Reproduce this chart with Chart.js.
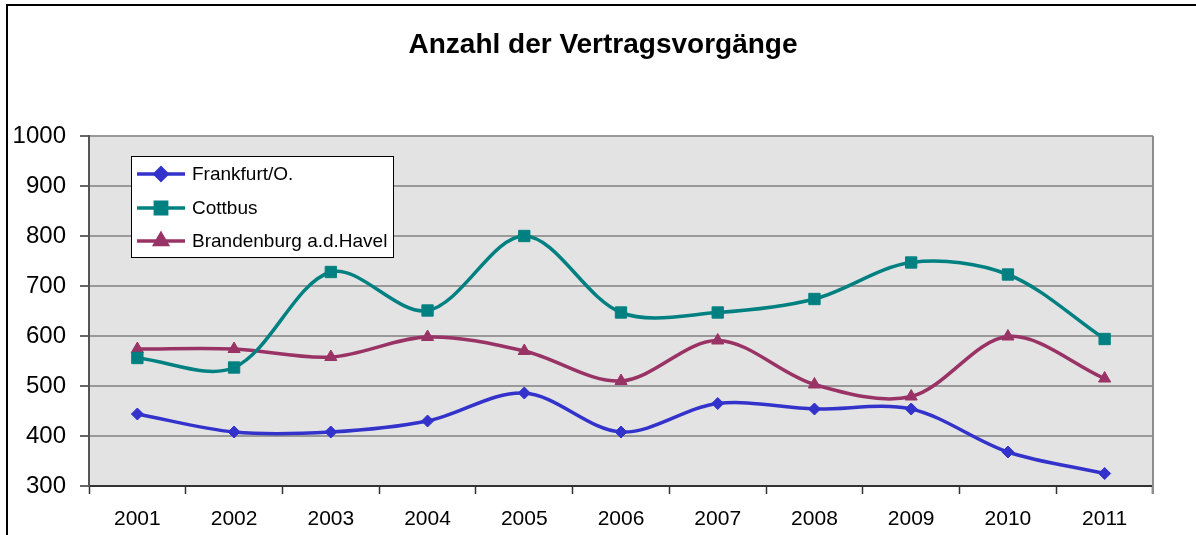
<!DOCTYPE html>
<html>
<head>
<meta charset="utf-8">
<script src="https://cdn.jsdelivr.net/npm/chart.js@4/dist/chart.umd.min.js"></script>
<style>
  html, body { margin: 0; padding: 0; background: #fff; }
  #wrap { width: 1196px; height: 535px; position: relative; }
</style>
</head>
<body>
<div id="wrap"><canvas id="chart" width="1196" height="535"></canvas></div>
<script>
// Werte
const years = ['2001', '2002', '2003', '2004', '2005', '2006', '2007', '2008', '2009', '2010', '2011'];
const frankfurt = [444, 408, 408, 430, 486, 408, 465, 454, 454, 368, 325];
const cottbus = [556, 537, 728, 651, 800, 647, 647, 674, 747, 723, 594];
const brandenburg = [574, 574, 558, 598, 570, 510, 591, 503, 479, 599, 515];
const seriesNames = ['Frankfurt/O.', 'Cottbus', 'Brandenburg a.d.Havel'];
const yTicks = [300, 400, 500, 600, 700, 800, 900, 1000];
const chartTitle = 'Anzahl der Vertragsvorgänge';

const FONT = '"Liberation Sans", Arial, sans-serif';

function series(label, data, color, style, radius) {
    return {
        label: label,
        data: data,
        borderColor: color,
        backgroundColor: color,
        borderWidth: 3.5,
        tension: 0.33,
        pointStyle: style,
        pointRadius: radius,
        pointHoverRadius: radius,
        pointBorderWidth: 1
    };
}

// Rahmen, Titel und grauer Plotbereich
const framePlugin = {
    id: 'frame',
    beforeDraw(chart) {
        const ctx = chart.ctx;
        const a = chart.chartArea;
        ctx.save();
        ctx.fillStyle = '#e3e3e3';
        ctx.fillRect(a.left, a.top, a.right - a.left, a.bottom - a.top);
        ctx.strokeStyle = '#000';
        ctx.lineWidth = 2;
        ctx.strokeRect(7, 5, 1400, 800);
        ctx.fillStyle = '#000';
        ctx.font = 'bold 28px ' + FONT;
        ctx.textAlign = 'center';
        ctx.textBaseline = 'middle';
        ctx.fillText(chartTitle, 603, 45);
        ctx.restore();
    },
    afterDraw(chart) {
        const ctx = chart.ctx;
        const a = chart.chartArea;
        ctx.save();
        ctx.strokeStyle = '#8c8c8c';
        ctx.lineWidth = 2;
        ctx.beginPath();
        ctx.moveTo(a.right, a.top);
        ctx.lineTo(a.right, a.bottom + 8);
        ctx.stroke();
        ctx.restore();
    }
};

// Legende im Plotbereich
const legendPlugin = {
    id: 'boxLegend',
    afterDatasetsDraw(chart) {
        const ctx = chart.ctx;
        const x = 131, y = 156, w = 262, h = 101;
        ctx.save();
        ctx.fillStyle = '#fff';
        ctx.fillRect(x, y, w, h);
        ctx.strokeStyle = '#000';
        ctx.lineWidth = 1;
        ctx.strokeRect(x + 0.5, y + 0.5, w, h);
        const rows = [174, 208, 241];
        chart.data.datasets.forEach((ds, i) => {
            const cy = rows[i];
            ctx.strokeStyle = ds.borderColor;
            ctx.lineWidth = 3.5;
            ctx.beginPath();
            ctx.moveTo(137, cy);
            ctx.lineTo(185, cy);
            ctx.stroke();
            ctx.fillStyle = ds.backgroundColor;
            Chart.helpers.drawPoint(ctx, {
                pointStyle: ds.pointStyle, radius: ds.pointRadius, rotation: 0, borderWidth: 1
            }, 161, cy);
            ctx.fillStyle = '#000';
            ctx.font = '19px ' + FONT;
            ctx.textBaseline = 'middle';
            ctx.textAlign = 'left';
            ctx.fillText(ds.label, 192, cy + 1);
        });
        ctx.restore();
    }
};

new Chart(document.getElementById('chart'), {
    type: 'line',
    data: {
        labels: years,
        datasets: [
            series(seriesNames[0], frankfurt, '#3333cc', 'rectRot', 6),
            series(seriesNames[1], cottbus, '#008080', 'rect', 8),
            series(seriesNames[2], brandenburg, '#993366', 'triangle', 7)
        ]
    },
    options: {
        responsive: false,
        animation: false,
        devicePixelRatio: 1,
        layout: { padding: { left: 8, right: 43, top: 136, bottom: 0 } },
        plugins: {
            legend: { display: false },
            tooltip: { enabled: false },
            title: { display: false }
        },
        scales: {
            x: {
                offset: true,
                grid: {
                    offset: true,
                    drawOnChartArea: false,
                    drawTicks: true,
                    tickLength: 8,
                    tickColor: '#333',
                    tickWidth: 1.5
                },
                border: { color: '#333', width: 2 },
                ticks: {
                    color: '#000',
                    padding: 13,
                    font: { family: FONT, size: 21 },
                    maxRotation: 0
                },
                afterFit(scale) { scale.height = 49; }
            },
            y: {
                min: 300,
                max: 1000,
                afterBuildTicks(scale) { scale.ticks = yTicks.map(v => ({ value: v })); },
                grid: {
                    color: '#999',
                    lineWidth: 2,
                    tickLength: 9,
                    tickColor: '#333',
                    tickWidth: 1.5
                },
                border: { color: '#555', width: 2 },
                ticks: {
                    color: '#000',
                    padding: 14,
                    font: { family: FONT, size: 24 },
                    callback: v => String(v)
                },
                afterFit(scale) { scale.width = 81; }
            }
        }
    },
    plugins: [framePlugin, legendPlugin]
});
</script>
</body>
</html>
